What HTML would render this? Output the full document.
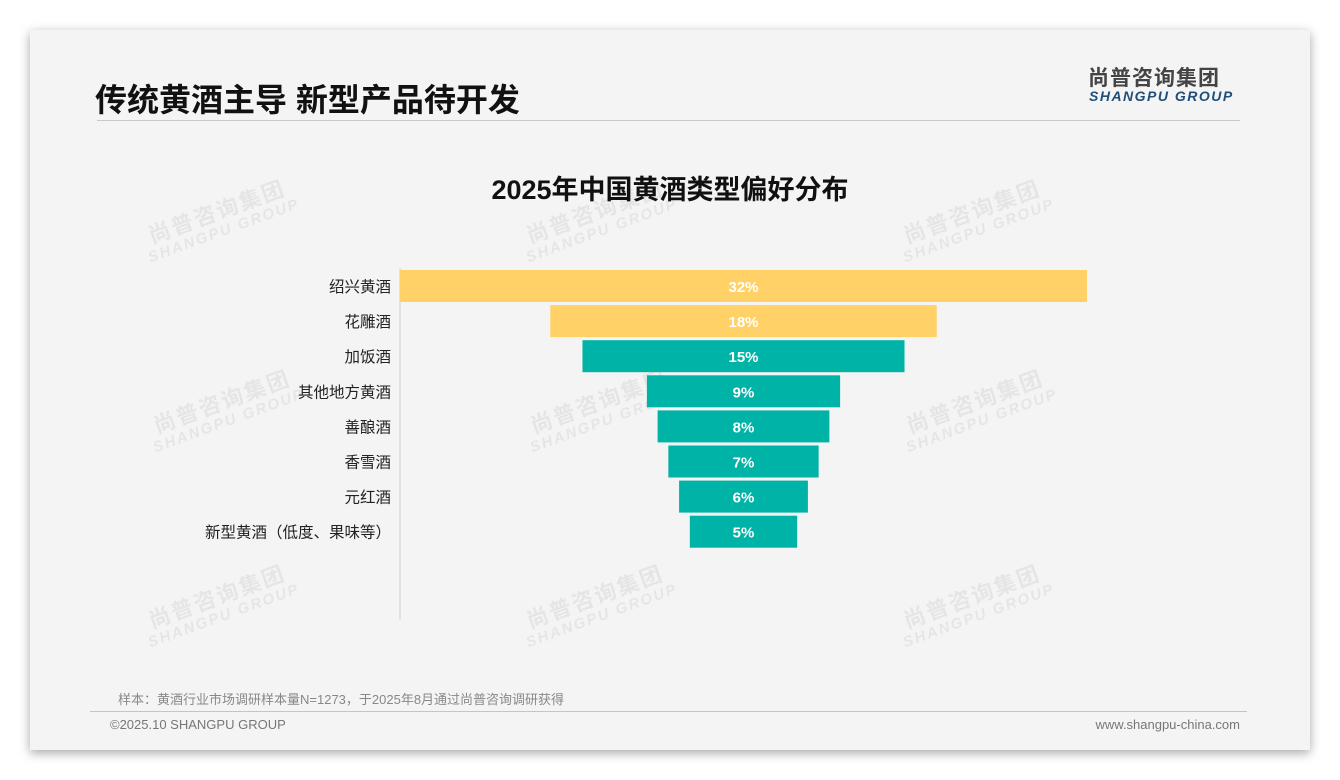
<!DOCTYPE html>
<html><head><meta charset="utf-8">
<style>
body{margin:0;width:1340px;height:780px;background:#fff;font-family:"Liberation Sans","Noto Sans CJK SC",sans-serif;position:relative;overflow:hidden}
#card{position:absolute;left:30px;top:30px;width:1280px;height:720px;background:#f4f4f4;box-shadow:0 3px 10px rgba(0,0,0,0.35)}
.abs{position:absolute}
.wm{position:absolute;transform:rotate(-20deg);color:rgba(0,0,0,0.06);font-weight:bold;text-align:center;line-height:1.1}
.wm .a{font-size:22px;letter-spacing:2px}.wm .b{font-size:15px;font-style:italic;letter-spacing:2px}
</style></head><body>
<div id="card"></div>
<div class="abs" style="left:95px;top:75px;font-size:32px;font-weight:bold;color:#111">传统黄酒主导 新型产品待开发</div>
<div class="abs" style="left:1088px;top:62px;font-size:21px;font-weight:bold;color:#444;letter-spacing:1px">尚普咨询集团</div>
<div class="abs" style="left:1089px;top:88px;font-size:14px;font-weight:bold;font-style:italic;color:#1f4e79;letter-spacing:1.5px">SHANGPU GROUP</div>
<div class="abs" style="left:97px;top:120px;width:1143px;height:1px;background:#c8c8c8"></div>
<div class="abs" style="left:0;width:1340px;text-align:center;top:168px;font-size:27px;font-weight:bold;color:#111">2025年中国黄酒类型偏好分布</div>
<div id="wms"></div>
<svg class="abs" style="left:0;top:0" width="1340" height="780" id="chart"></svg>
<div class="abs" style="left:118px;top:689px;font-size:13px;color:#888">样本：黄酒行业市场调研样本量N=1273，于2025年8月通过尚普咨询调研获得</div>
<div class="abs" style="left:90px;top:711px;width:1157px;height:1px;background:#b8c8d8"></div>
<div class="abs" style="left:110px;top:717px;font-size:13px;color:#777">©2025.10 SHANGPU GROUP</div>
<div class="abs" style="right:100px;top:717px;font-size:13px;color:#777">www.shangpu-china.com</div>
<script>
const categories=["绍兴黄酒","花雕酒","加饭酒","其他地方黄酒","善酿酒","香雪酒","元红酒","新型黄酒（低度、果味等）"];
const values=[32,18,15,9,8,7,6,5];
const labels=["32%","18%","15%","9%","8%","7%","6%","5%"];
const colors=["#ffd166","#ffd166","#00b3a7","#00b3a7","#00b3a7","#00b3a7","#00b3a7","#00b3a7"];
const svg=document.getElementById('chart');const NS="http://www.w3.org/2000/svg";
const cx=743.5,scale=687/32,top0=270,step=35.1,bh=32;
const xw=v=>v*scale; const y=i=>top0+i*step;
const ax=document.createElementNS(NS,'line');


ax.setAttribute('x1',400);ax.setAttribute('x2',400);ax.setAttribute('y1',268);ax.setAttribute('y2',620);ax.setAttribute('stroke','#d0d0d0');svg.appendChild(ax);
categories.forEach((c,i)=>{
 const w=xw(values[i]);
 const r=document.createElementNS(NS,'rect');
 
 
 r.setAttribute('x',cx-w/2);r.setAttribute('y',y(i));r.setAttribute('width',w);r.setAttribute('height',bh);r.setAttribute('fill',colors[i]);svg.appendChild(r);
 const t=document.createElementNS(NS,'text');
 
 
 t.setAttribute('x',cx);t.setAttribute('y',y(i)+bh/2+6);t.setAttribute('text-anchor','middle');t.setAttribute('fill','#fff');t.setAttribute('font-size','15');t.setAttribute('font-weight','bold');t.textContent=labels[i];svg.appendChild(t);
 const l=document.createElementNS(NS,'text');
 
 
 l.setAttribute('x',391);l.setAttribute('y',y(i)+bh/2+6);l.setAttribute('text-anchor','end');l.setAttribute('fill','#222');l.setAttribute('font-size','15.5');l.textContent=c;svg.appendChild(l);
});
const wmPos=[[140,200],[518,200],[895,200],[145,390],[522,390],[898,390],[140,585],[518,585],[895,585]];
const wc=document.getElementById('wms');
wmPos.forEach(p=>{const d=document.createElement('div');d.className='wm';


d.style.left=p[0]+'px';d.style.top=p[1]+'px';d.innerHTML='<div class="a">尚普咨询集团</div><div class="b">SHANGPU GROUP</div>';wc.appendChild(d);});
</script>
</body></html>
